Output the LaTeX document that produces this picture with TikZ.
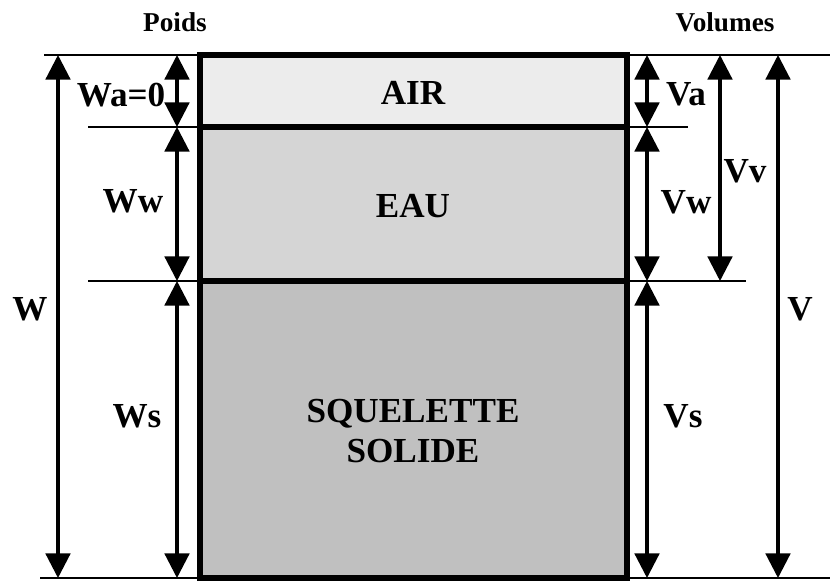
\documentclass[tikz,border=0pt]{standalone}
\usepackage{fontspec}
\setmainfont{Liberation Serif}
\usetikzlibrary{arrows.meta}

\definecolor{airgris}{HTML}{ECECEC}
\definecolor{eaugris}{HTML}{D5D5D5}
\definecolor{solgris}{HTML}{C0C0C0}

\tikzset{
  cote/.style={line width=1.8pt, {Triangle[length=14pt,width=14pt]}-{Triangle[length=14pt,width=14pt]}},
  repere/.style={line width=0.6pt},
  phase/.style={line width=2.9pt},
  lbl/.style={font=\fontsize{20}{23}\selectfont\bfseries, inner sep=1pt},
  titre/.style={font=\fontsize{15.5}{17}\selectfont\bfseries}
}

\begin{document}
\begin{tikzpicture}[x=0.02cm, y=-0.02cm]
    \useasboundingbox (0,0) rectangle (835,581);
    % titres
    \node[titre] (poids) at (175,22) {Poids};
    \node[titre] (volumes) at (725,22) {Volumes};
    % lignes de repere
    \draw[repere] (44,55) -- (830,55);
    \draw[repere] (88,127) -- (688,127);
    \draw[repere] (88,281) -- (746,281);
    \draw[repere] (40,578) -- (830,578);
    % les trois phases
    \fill[airgris] (200,55) rectangle (627,127);
    \fill[eaugris] (200,127) rectangle (627,281);
    \fill[solgris] (200,281) rectangle (627,578);
    \draw[phase] (200,55) rectangle (627,578);
    \draw[phase] (200,127) -- (627,127);
    \draw[phase] (200,281) -- (627,281);
    \node[lbl] (air) at (413,93) {AIR};
    \node[lbl] (eau) at (413,206) {EAU};
    \node[lbl, align=center] (sol) at (413,431) {SQUELETTE\\SOLIDE};
    % poids
    \coordinate (wh) at (58,55);
    \coordinate (wb) at (58,578);
    \coordinate (p0) at (177,55);
    \coordinate (p1) at (177,127);
    \coordinate (p2) at (177,281);
    \coordinate (p3) at (177,578);
    \draw[cote] (wh) -- (wb);
    \draw[cote] (p0) -- (p1);
    \draw[cote] (p1) -- (p2);
    \draw[cote] (p2) -- (p3);
    \node[lbl] (w) at (30,309) {W};
    \node[lbl] (wa) at (121,95) {Wa=0};
    \node[lbl] (ww) at (133,201) {Ww};
    \node[lbl] (ws) at (137,416) {Ws};
    % volumes
    \coordinate (v0) at (647,55);
    \coordinate (v1) at (647,127);
    \coordinate (v2) at (647,281);
    \coordinate (v3) at (647,578);
    \coordinate (vvh) at (720,55);
    \coordinate (vvb) at (720,281);
    \coordinate (vh) at (778,55);
    \coordinate (vb) at (778,578);
    \draw[cote] (v0) -- (v1);
    \draw[cote] (v1) -- (v2);
    \draw[cote] (v2) -- (v3);
    \draw[cote] (vvh) -- (vvb);
    \draw[cote] (vh) -- (vb);
    \node[lbl] (va) at (686,94) {Va};
    \node[lbl] (vw) at (686,202) {Vw};
    \node[lbl] (vv) at (745,171) {Vv};
    \node[lbl] (v) at (800,309) {V};
    \node[lbl] (vs) at (683,416) {Vs};
\end{tikzpicture}
\end{document}
